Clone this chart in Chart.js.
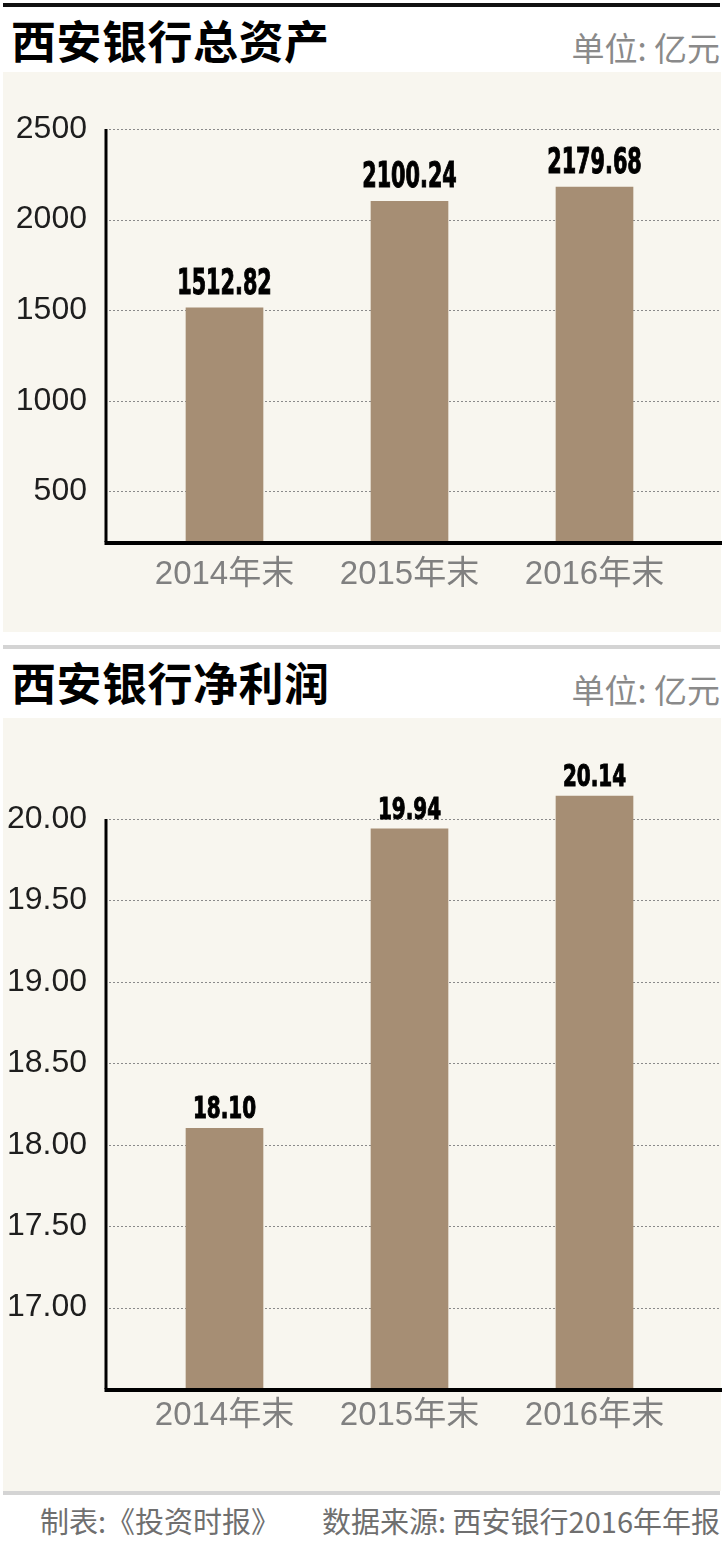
<!DOCTYPE html>
<html lang="zh-CN">
<head>
<meta charset="utf-8">
<title>西安银行总资产与净利润</title>
<script src="https://cdn.jsdelivr.net/npm/chart.js@4.4.1/dist/chart.umd.min.js"></script>
<style>
  html, body { margin: 0; padding: 0; background: #ffffff; }
  body { width: 722px; height: 1550px; position: relative; overflow: hidden;
         font-family: "Noto Sans CJK SC", "Noto Sans", sans-serif; }
  .rule-black { position: absolute; left: 3px; width: 717px; top: 3px; height: 4px; background: #111; }
  .rule-grey  { position: absolute; left: 3px; width: 717px; height: 4px; background: #d4d4d4; }
  .title { position: absolute; left: 11px; font-size: 45px; line-height: 45px; font-weight: 700; color: #000;
           letter-spacing: 0.5px; }
  .unit  { position: absolute; right: 2px; font-size: 33px; line-height: 33px; color: #8a8a8a; font-weight: 400; }
  .panel { position: absolute; left: 3px; width: 718px; background: #f8f6ef; }
  canvas { position: absolute; left: 0; }
  .foot  { position: absolute; top: 1505px; font-size: 29px; line-height: 30px; color: #6f6f6f; }
</style>
</head>
<body>
<div class="rule-black"></div>
<div class="title" style="top:17px">西安银行总资产</div>
<div class="unit" style="top:31px">单位: 亿元</div>
<div class="panel" style="top:72px;height:560px"></div>
<canvas id="assets" width="722" height="560" style="top:72px"></canvas>

<div class="rule-grey" style="top:645px"></div>
<div class="title" style="top:659px">西安银行净利润</div>
<div class="unit" style="top:673px">单位: 亿元</div>
<div class="panel" style="top:718px;height:773px"></div>
<canvas id="profit" width="722" height="773" style="top:718px"></canvas>

<div class="rule-grey" style="top:1491px"></div>
<div class="foot" style="left:40px">制表:《投资时报》</div>
<div class="foot" style="right:2px">数据来源: 西安银行2016年年报</div>

<script>
// Year-end categories and the two reported series (unit: 亿元)
const categories = ['2014年末', '2015年末', '2016年末'];
const totalAssets = [1512.82, 2100.24, 2179.68];
const netProfit = [18.10, 19.94, 20.14];

// Value-axis tick marks for each chart
const assetTicks = [500, 1000, 1500, 2000, 2500];
const profitTicks = [17.00, 17.50, 18.00, 18.50, 19.00, 19.50, 20.00];

Chart.defaults.font.family = '"Liberation Sans", "Noto Sans CJK SC", sans-serif';
Chart.defaults.devicePixelRatio = 1;

const BAR_COLOR = '#a68e74';

// Dotted grid lines and the black axis frame, which run wider than the bar area
const axisFrame = {
  id: 'axisFrame',
  beforeDatasetsDraw(chart, args, o) {
    const { ctx, chartArea, scales: { y } } = chart;
    ctx.save();
    ctx.strokeStyle = o.gridColor;
    ctx.lineWidth = 1;
    ctx.setLineDash([2, 2]);
    y.ticks.forEach(t => {
      const py = Math.round(y.getPixelForValue(t.value)) + 0.5;
      ctx.beginPath();
      ctx.moveTo(o.left + 3, py);
      ctx.lineTo(o.right, py);
      ctx.stroke();
    });
    ctx.setLineDash([]);
    ctx.strokeStyle = '#000';
    ctx.lineWidth = 3;
    ctx.beginPath();
    ctx.moveTo(o.left, Math.round(y.getPixelForValue(y.max)));
    ctx.lineTo(o.left, chartArea.bottom);
    ctx.stroke();
    ctx.restore();
  },
  afterDatasetsDraw(chart, args, o) {
    const { ctx, chartArea } = chart;
    ctx.save();
    ctx.strokeStyle = '#000';
    ctx.lineWidth = 4;
    ctx.beginPath();
    ctx.moveTo(o.left - 1.5, chartArea.bottom + 1);
    ctx.lineTo(o.right + 2, chartArea.bottom + 1);
    ctx.stroke();
    ctx.restore();
  }
};

// Bold condensed value above each bar
const valueLabels = {
  id: 'valueLabels',
  afterDatasetsDraw(chart, args, opts) {
    const ctx = chart.ctx;
    const meta = chart.getDatasetMeta(0);
    const values = chart.data.datasets[0].data;
    ctx.save();
    ctx.fillStyle = '#000';
    ctx.strokeStyle = '#000';
    ctx.lineWidth = 1;
    ctx.textAlign = 'center';
    ctx.textBaseline = 'alphabetic';
    ctx.font = 'bold ' + opts.size + 'px "DejaVu Sans Condensed", "DejaVu Sans", sans-serif';
    meta.data.forEach((bar, i) => {
      const text = values[i].toFixed(2);
      ctx.save();
      ctx.translate(bar.x, bar.y - opts.gap);
      ctx.scale(opts.squeeze, 1);
      ctx.fillText(text, 0, 0);
      ctx.strokeText(text, 0, 0);
      ctx.restore();
    });
    ctx.restore();
  }
};

function makeChart(canvasId, values, ticks, yMin, yMax, tickFmt, topPad, xHeight, xPad, labelOpts) {
  return new Chart(document.getElementById(canvasId), {
    type: 'bar',
    data: {
      labels: categories,
      datasets: [{
        data: values,
        backgroundColor: BAR_COLOR,
        borderWidth: 0,
        barThickness: 77,
        base: yMin,
        clip: false
      }]
    },
    options: {
      responsive: false,
      animation: false,
      events: [],
      layout: { padding: { top: topPad, right: 35, left: 0, bottom: 0 } },
      plugins: {
        legend: { display: false },
        tooltip: { enabled: false },
        valueLabels: labelOpts,
        axisFrame: { left: 106, right: 720, gridColor: '#8a8a8a' }
      },
      scales: {
        x: {
          afterFit: axis => { axis.height = xHeight; },
          grid: { display: false, drawTicks: false },
          border: { display: false },
          ticks: {
            autoSkip: false,
            maxRotation: 0,
            padding: xPad,
            color: '#808080',
            font: { size: 33 }
          }
        },
        y: {
          min: yMin,
          max: yMax,
          afterBuildTicks: axis => { axis.ticks = ticks.map(v => ({ value: v })); },
          afterFit: axis => { axis.width = 132; axis.paddingTop = 0; axis.paddingBottom = 0; },
          grid: { display: false, drawTicks: false },
          border: { display: false },
          ticks: {
            padding: 45,
            color: '#1e1e1e',
            font: { size: 32 },
            callback: tickFmt
          }
        }
      }
    },
    plugins: [axisFrame, valueLabels]
  });
}

makeChart('assets', totalAssets, assetTicks, 220, 2500,
  v => String(v), 57, 90, 13, { size: 35, gap: 14, squeeze: 0.66 });

makeChart('profit', netProfit, profitTicks, 16.5, 20,
  v => Number(v).toFixed(2), 101, 102, 7, { size: 30, gap: 10, squeeze: 0.74 });
</script>
</body>
</html>
